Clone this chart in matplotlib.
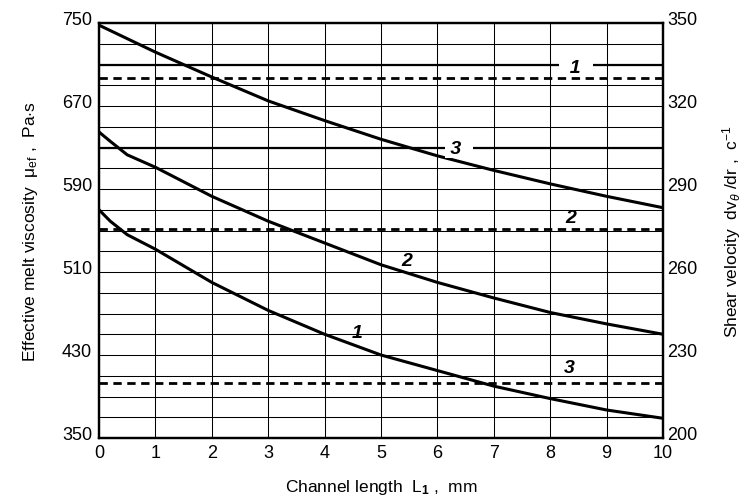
import matplotlib
matplotlib.use("Agg")
import matplotlib.pyplot as plt
import matplotlib.transforms as mtransforms
import numpy as np

plt.rcParams['font.family'] = ['Liberation Sans', 'DejaVu Sans']
plt.rcParams['mathtext.fontset'] = 'custom'
plt.rcParams['mathtext.rm'] = 'Liberation Sans'
plt.rcParams['mathtext.it'] = 'Liberation Sans:italic'
plt.rcParams['mathtext.bf'] = 'Liberation Sans:bold'

# channel length, mm
L1 = [0, 1, 2, 3, 4, 5, 6, 7, 8, 9, 10]
L1_start = [0, 0.2, 0.5, 1, 2, 3, 4, 5, 6, 7, 8, 9, 10]

# effective melt viscosity, Pa*s (left axis)
visc_1 = [570, 559, 546, 532, 500, 473, 450, 430, 415, 400, 388, 377, 369]
visc_2 = [645, 636, 623, 611, 583, 559, 538, 517, 500, 485, 471, 460, 450]
visc_3 = [748, 722, 698, 675, 656, 638, 622, 608, 595, 583, 572]

# shear velocity, 1/s (right axis)
shear_dashed = [330, 275.5, 220]
shear_solid = [335, 305]

fig = plt.figure(figsize=(7.53, 5.02), dpi=100)
ax = fig.add_axes([0.1315, 0.1255, 0.749, 0.8265])
ax2 = ax.twinx()

ax.set_xlim(0, 10)
ax.set_ylim(350, 750)
ax2.set_ylim(200, 350)

ax.set_xticks(np.arange(0, 11, 1))
ax.set_yticks(np.arange(350, 751, 80))
ax.set_yticks(np.arange(350, 751, 20), minor=True)
ax2.set_yticks(np.arange(200, 351, 30))

ax.grid(True, which='both', color='black', linewidth=0.75)
ax.set_axisbelow(True)
ax.tick_params(which='both', length=0, labelsize=13)
ax.tick_params(axis='y', pad=5)
ax.tick_params(axis='x', pad=4)
ax2.tick_params(length=0, labelsize=13, pad=3)
for a in (ax, ax2):
    for s in a.spines.values():
        s.set_linewidth(1.6)

# y tick labels sit a little above their grid lines in the original
up = mtransforms.ScaledTranslation(0, 4 / 72, fig.dpi_scale_trans)
for t in ax.get_yticklabels() + ax2.get_yticklabels():
    t.set_transform(t.get_transform() + up)

lw = 2.2
ax.plot(L1_start, visc_1, color='black', lw=lw)
ax.plot(L1_start, visc_2, color='black', lw=lw)
ax.plot(L1, visc_3, color='black', lw=lw)

for v in shear_dashed:
    ax2.axhline(v, color='black', lw=2.0, linestyle=(0, (3.0, 2.0)))
for v in shear_solid:
    ax2.axhline(v, color='black', lw=1.6)

lab = dict(fontsize=14, fontweight='bold', fontstyle='italic', ha='center', va='center',
           transform=ax.transData, zorder=5)
gap = dict(facecolor='white', edgecolor='none', pad=0.5)
# labels on the viscosity curves
ax2.text(4.58, 452, '1', **lab)
ax2.text(5.46, 521, '2', **lab)
# labels on the shear lines
ax2.text(8.45, 707, '  1  ', bbox=gap, **lab)
ax2.text(6.38, 629, ' 3  ', bbox=gap, **lab)
ax2.text(8.36, 563, '2', **lab)
ax2.text(8.33, 418, '3', **lab)

ax.set_xlabel(r'Channel length  L$_{\mathbf{1}}$ ,  mm', fontsize=12.5, labelpad=12)
ax.set_ylabel(r'Effective melt viscosity  $\mathrm{\mu}_{\rm ef}$ ,  Pa$\cdot$s',
              fontsize=12.5, labelpad=16)
ax2.set_ylabel(r'Shear velocity  dv$_\theta$ /dr ,  c$^{-1}$', fontsize=12.5, labelpad=16)

fig.savefig('out.png', dpi=100)
